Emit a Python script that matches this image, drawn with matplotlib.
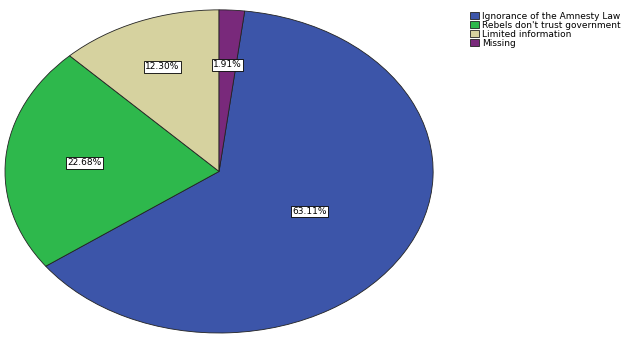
import matplotlib.pyplot as plt
import numpy as np

# legend categories and their shares (%)
categories = ['Ignorance of the Amnesty Law', "Rebels don't trust government",
              'Limited information', 'Missing']
shares = [63.11, 22.68, 12.30, 1.91]
colors = ['#3c55a9', '#2eb84c', '#d6d29f', '#79297b']
label_dist = [0.49, 0.63, 0.70, 0.66]

fig = plt.figure(figsize=(6.25, 3.52), dpi=100)
ax = fig.add_axes([0.008, 0.054, 0.685, 0.918])

# the last slice (Missing) sits just right of 12 o'clock, so start there
start = 90 - shares[-1] * 3.6
wedges, texts, autotexts = ax.pie(
    shares, colors=colors, startangle=start, counterclock=False,
    autopct='%.2f%%', pctdistance=1.0,
    wedgeprops=dict(edgecolor='#222222', linewidth=0.6),
    textprops=dict(fontsize=6.5, color='black'))

for t, d in zip(autotexts, label_dist):
    x, y = t.get_position()
    t.set_position((x * d, y * d))
    t.set_bbox(dict(boxstyle='square,pad=0.15', facecolor='white',
                    edgecolor='black', linewidth=0.6))

ax.set_aspect('auto')
ax.set_xlim(-1.0, 1.0)
ax.set_ylim(-1.0, 1.0)
ax.axis('off')

fig.legend(wedges, categories, loc='upper left', bbox_to_anchor=(0.742, 0.985),
           frameon=False, fontsize=6.5, handlelength=1.0, handleheight=0.85,
           handletextpad=0.3, labelspacing=0.0, borderpad=0.2)

plt.savefig('out.png', dpi=100)
